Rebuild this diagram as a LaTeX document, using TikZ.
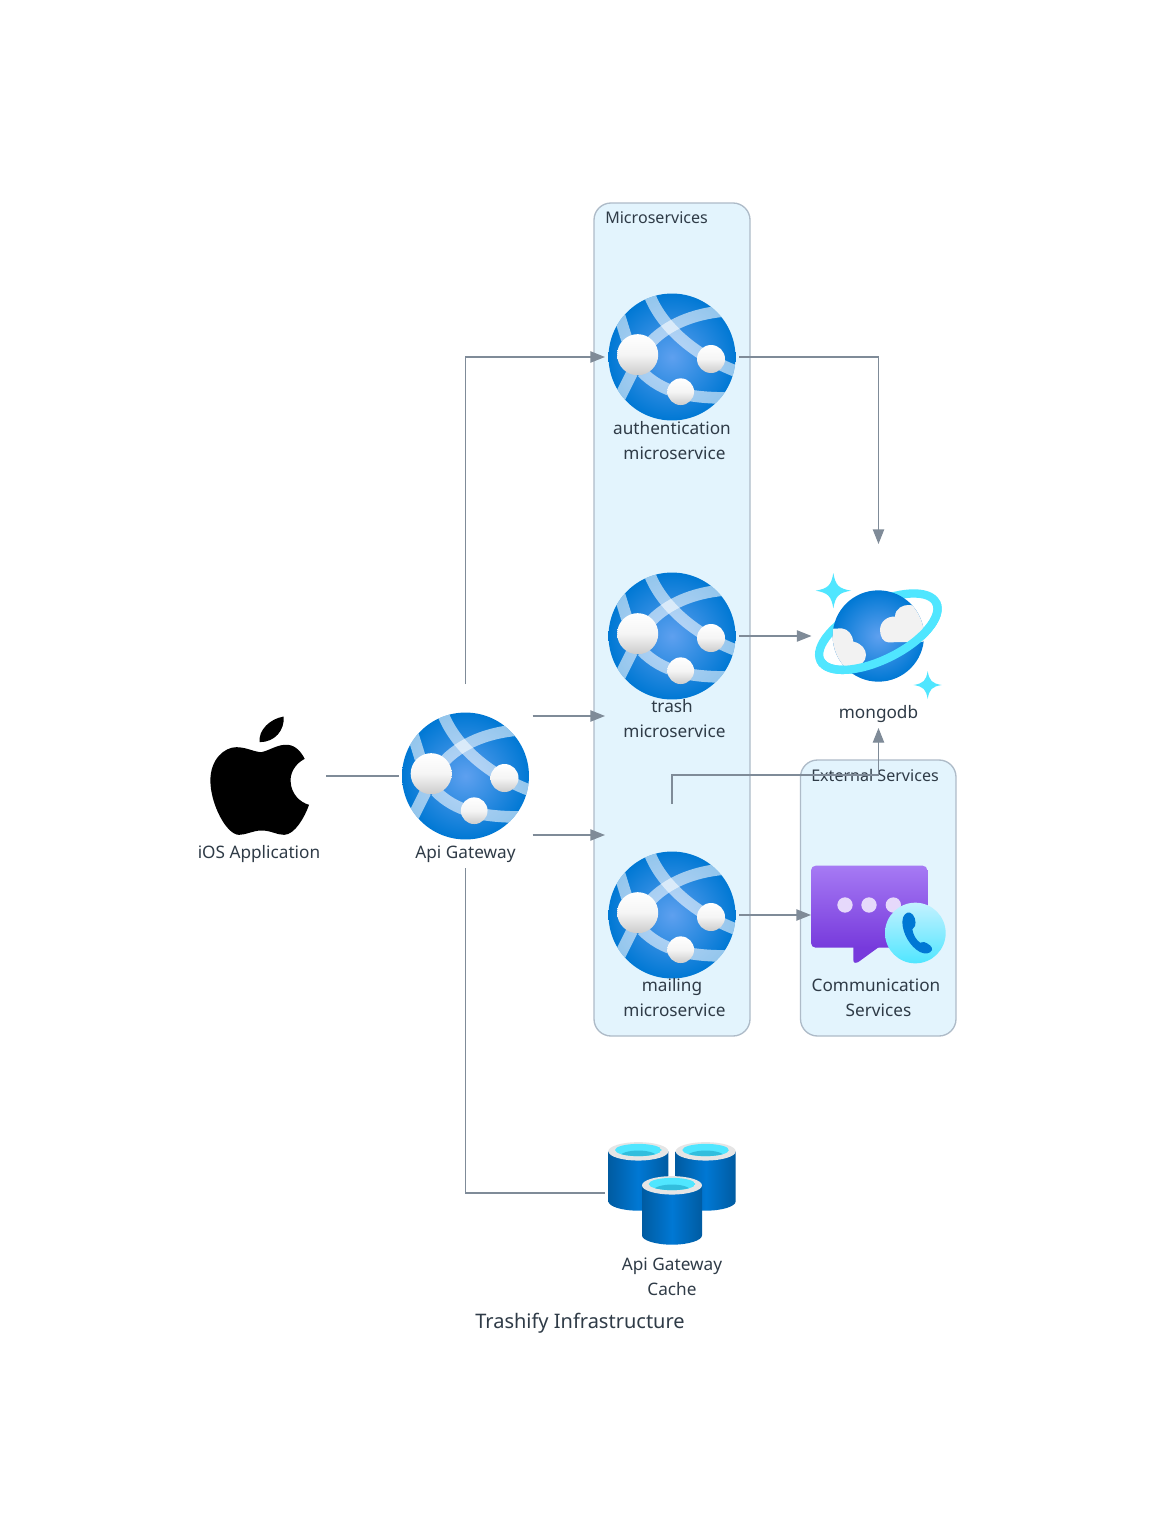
\documentclass[tikz,border=0pt]{standalone}
\usepackage{fontspec}
\setmainfont{Noto Sans}
\usetikzlibrary{arrows.meta,calc}
\definecolor{linec}{HTML}{7F8B98}
\definecolor{txtc}{HTML}{2F3B47}
\definecolor{clfill}{HTML}{E3F4FD}
\definecolor{clline}{HTML}{AEBBC8}
\definecolor{azblue}{HTML}{0078D4}
\definecolor{azlight}{HTML}{5EA0EF}
\definecolor{azdark}{HTML}{005BA1}
\definecolor{cosmo}{HTML}{50E6FF}
\definecolor{cosmodark}{HTML}{32BEDD}
\definecolor{cloudc}{HTML}{F2F2F2}
\definecolor{purpletop}{HTML}{A67AF4}
\definecolor{purplebot}{HTML}{773ADC}
\definecolor{dotc}{HTML}{E6D9FB}
\definecolor{phonetop}{HTML}{C3F1FF}
\newcommand{\sparklefig}[3]{\fill[cosmo] (#1,#2-#3)
  .. controls (#1+.12*#3,#2-.3*#3) and (#1+.3*#3,#2-.12*#3) .. (#1+#3,#2)
  .. controls (#1+.3*#3,#2+.12*#3) and (#1+.12*#3,#2+.3*#3) .. (#1,#2+#3)
  .. controls (#1-.12*#3,#2+.3*#3) and (#1-.3*#3,#2+.12*#3) .. (#1-#3,#2)
  .. controls (#1-.3*#3,#2-.12*#3) and (#1-.12*#3,#2-.3*#3) .. (#1,#2-#3) -- cycle;}
\tikzset{
  x=.75pt,y=-.75pt,
  cluster/.style={draw=clline,fill=clfill,line width=1pt,rounded corners=12.75pt,inner sep=0pt},
  clusterlabel/.style={font=\fontsize{12.05}{15}\selectfont,text=txtc,anchor=west,inner sep=0pt},
  iconbox/.style={inner sep=0pt,outer sep=0pt,minimum width=100.5pt,minimum height=138pt},
  microbox/.style={inner sep=0pt,outer sep=0pt,minimum width=100.5pt,minimum height=166.5pt},
  lbl/.style={font=\fontsize{12.9}{18.75}\selectfont,text=txtc,align=center,inner sep=0pt},
  titlelbl/.style={font=\fontsize{15}{19}\selectfont,text=txtc,inner sep=0pt},
  conn/.style={draw=linec,line width=1pt},
  arr/.style={conn,-{Triangle[length=11pt,width=8.5pt]}},
  band/.style={draw=white,draw opacity=.58,line width=8.75pt},
  ball/.style={top color=white,bottom color=black!20,middle color=black!4,shading angle=0},
  pics/webapp/.style={code={
    \begin{scope}
      \clip (0,0) circle[radius=47.6pt];
      \shade[inner color=azlight,outer color=azblue] (0,0) circle[radius=47.6pt];
      \draw[band] (-24,-66) .. controls (-12,-30) and (25,0) .. (66,15);
      \draw[band] (-22,-14) .. controls (-5,-32) and (20,-43) .. (52,-46);
      \draw[band] (-30,15) .. controls (-10,35) and (15,41) .. (56,41);
      \draw[band] (-54,-46) -- (-45,-17);
      \draw[band] (-40,16) -- (-54,44);
    \end{scope}
    \shade[ball] (-34.3,-2.3) circle[radius=15.4pt];
    \shade[ball] (39,2) circle[radius=10.5pt];
    \shade[ball] (8.7,34.7) circle[radius=10pt];
  }},
  pics/cyl/.style={code={
    \begin{scope}[x=.25pt,y=-.25pt]
      \shade[left color=azdark,right color=azdark,middle color=azblue]
        (-90,0) -- (-90,150) .. controls (-90,165) and (-50,178) .. (0,178)
        .. controls (50,178) and (90,165) .. (90,150) -- (90,0) -- cycle;
      \fill[black!10] (0,0) ellipse[x radius=22.5pt,y radius=6.9pt];
      \begin{scope}
        \clip (0,-4) ellipse[x radius=17.5pt,y radius=4.6pt];
        \fill[cosmo] (0,-4) ellipse[x radius=17.5pt,y radius=4.6pt];
        \fill[cosmodark] (0,16) ellipse[x radius=14pt,y radius=4.6pt];
      \end{scope}
    \end{scope}
  }},
}
\begin{document}
\begin{tikzpicture}
\useasboundingbox (0,0) rectangle (1159,1534);
\fill[white] (0,0) rectangle (1159,1534);

% clusters
\node[cluster,minimum width=117pt,minimum height=624.75pt] (microcl) at (672,619.5) {};
\node[cluster,minimum width=116.6pt,minimum height=207pt] (extcl) at (878.25,898) {};
\node[clusterlabel] (microcllabel) at (605,218) {Microservices};
\node[clusterlabel] (extcllabel) at (811,775) {External Services};

% invisible node boxes (connector ends)
\node[iconbox] (ios) at (259,776) {};
\node[iconbox] (gw) at (465.5,776) {};
\node[microbox] (auth) at (672,357) {};
\node[microbox] (trash) at (672,636) {};
\node[microbox] (mail) at (672,915) {};
\node[iconbox] (mongo) at (878.5,636) {};
\node[iconbox] (comm) at (878,915) {};
\node[iconbox] (cache) at (672,1193) {};

% web app icons
\pic at (gw) {webapp};
\pic at (auth) {webapp};
\pic at (trash) {webapp};
\pic at (mail) {webapp};

% apple
\begin{scope}[shift={(189.7,700.5)},x=.25pt,y=-.25pt]
  \fill[black] (210,125) .. controls (205,90) and (240,55) .. (282,48)
     .. controls (285,90) and (255,125) .. (210,125) -- cycle;
  \fill[black] (215,155) .. controls (240,150) and (265,130) .. (295,133)
     .. controls (318,135) and (335,155) .. (345,175)
     .. controls (315,190) and (300,220) .. (303,245)
     .. controls (305,280) and (330,305) .. (358,313)
     .. controls (345,350) and (315,403) .. (283,403)
     .. controls (260,403) and (245,390) .. (215,390)
     .. controls (190,390) and (170,403) .. (148,403)
     .. controls (110,403) and (62,310) .. (62,240)
     .. controls (62,175) and (105,140) .. (140,140)
     .. controls (170,140) and (195,155) .. (215,155) -- cycle;
\end{scope}

% cosmos
\begin{scope}[shift={(800,560)},x=.25pt,y=-.25pt]
  \sparklefig{100}{92}{53}
  \sparklefig{383}{375}{42}
  \draw[cosmo,line width=6.25pt,rotate around={26.5:(235,215)}] (235,215) ellipse[x radius=48.5pt,y radius=21pt];
  \begin{scope}
    \clip (235,228) circle[radius=34.25pt];
    \shade[inner color=azlight,outer color=azblue] (235,228) circle[radius=34.25pt];
    \fill[cloudc] (240,210) .. controls (240,185) and (262,168) .. (285,170)
      .. controls (285,145) and (310,133) .. (330,135)
      .. controls (350,135) and (370,150) .. (380,175) -- (380,245) -- (265,247)
      .. controls (250,247) and (240,230) .. (240,210) -- cycle;
    \fill[cloudc] (80,207) -- (125,205) .. controls (145,207) and (158,225) .. (160,245)
      .. controls (185,250) and (198,268) .. (198,285)
      .. controls (198,305) and (180,320) .. (160,320) -- (80,320) -- cycle;
  \end{scope}
  \begin{scope}[rotate around={26.5:(235,215)}]
    \clip (0,215) rectangle (470,400);
    \draw[cosmo,line width=6.25pt] (235,215) ellipse[x radius=48.5pt,y radius=21pt];
  \end{scope}
\end{scope}

% communication services
\begin{scope}[shift={(795,850)},x=.25pt,y=-.25pt]
  \fill[purplebot] (175,280) -- (175,330)
     .. controls (175,340) and (182,340) .. (190,336) -- (260,285) -- cycle;
  \shade[top color=purpletop,bottom color=purplebot,rounded corners=3.5pt] (48,47) rectangle (397,293);
  \fill[dotc] (150,165) circle[radius=5.75pt];
  \fill[dotc] (222,165) circle[radius=5.75pt];
  \fill[dotc] (295,165) circle[radius=5.75pt];
  \shade[top color=phonetop,bottom color=cosmo] (361,249) circle[radius=22.75pt];
  \fill[azblue] (322,215) .. controls (322,195) and (335,185) .. (345,188)
     .. controls (358,192) and (365,215) .. (360,228) -- (352,238)
     .. controls (355,255) and (362,268) .. (375,278) -- (387,276)
     .. controls (400,280) and (415,292) .. (411,300)
     .. controls (405,312) and (390,313) .. (375,306)
     .. controls (345,290) and (322,250) .. (322,215) -- cycle;
\end{scope}

% cache
\begin{scope}[shift={(595,1130)},x=.25pt,y=-.25pt]
  \pic at (130,64) {cyl};
  \pic at (332,64) {cyl};
  \pic at (231,166) {cyl};
\end{scope}

% connectors
\draw[conn] (ios.east) -- (gw.west);
\draw[arr] (gw.north) |- (auth.west);
\draw[arr] ($(gw.east)+(0,-60)$) -- ($(trash.west)+(0,80)$);
\draw[arr] ($(gw.east)+(0,59)$) -- ($(mail.west)+(0,-80)$);
\draw[conn] (gw.south) |- (cache.west);
\draw[arr] (auth.east) -| (mongo.north);
\draw[arr] (trash.east) -- (mongo.west);
\draw[arr] (mail.north) -- ++(0,-29) -| (mongo.south);
\draw[arr] (mail.east) -- (comm.west);

% labels
\node[lbl] (iosl) at (259,854) {iOS Application};
\node[lbl] (gwl) at (465.5,854) {Api Gateway};
\node[lbl] (authl) at (674.5,440.5) {authentication\kern 3.75pt\\microservice};
\node[lbl] (trashl) at (674.5,719) {trash\kern 3.75pt\\microservice};
\node[lbl] (maill) at (674.5,998) {mailing\kern 3.75pt\\microservice};
\node[lbl] (mongol) at (878.5,714) {mongodb};
\node[lbl] (comml) at (878.5,998) {Communication\kern 3.75pt\\Services};
\node[lbl] (cachel) at (672,1277) {Api Gateway\\Cache};
\node[titlelbl] (title) at (580,1323) {Trashify Infrastructure};
\end{tikzpicture}
\end{document}
